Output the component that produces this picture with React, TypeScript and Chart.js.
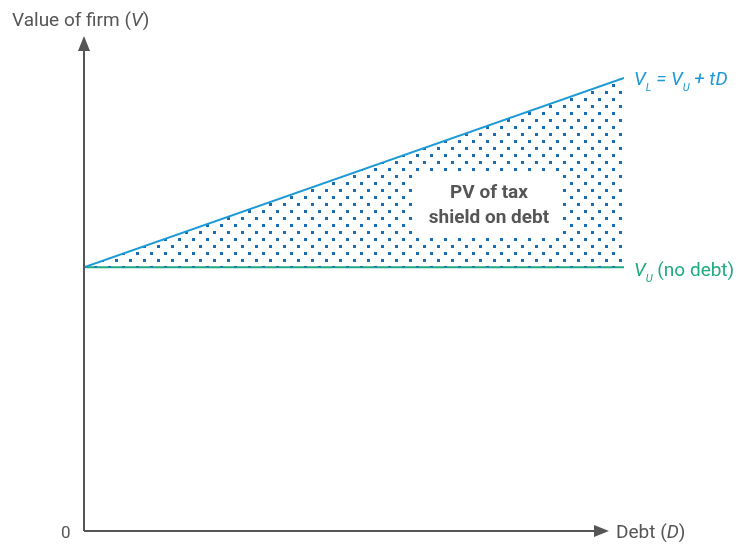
import React, { useEffect, useRef } from "react";
import { Chart, registerables } from "chart.js";

Chart.register(...registerables);

const debtValues = [0, 100];
const leveredValues = [53.5, 91.9];
const unleveredValues = [53.5, 53.5];

const yAxisTitle = "Value of firm (";
const xAxisTitle = "Debt (";
const zeroLabel = "0";
const shieldLabel = ["PV of tax", "shield on debt"];

const FONT = "Roboto, 'Noto Sans', sans-serif";
const AXIS_COLOR = "#555555";
const BLUE = "#1c9ad6";
const GREEN = "#1faa82";
const DOT = "#1a6db3";

function makePattern(): CanvasPattern | string {
  const c = document.createElement("canvas");
  c.width = 14;
  c.height = 14;
  const g = c.getContext("2d");
  if (!g) return DOT;
  g.fillStyle = DOT;
  g.fillRect(10, 0, 3, 3);
  g.fillRect(3, 7, 3, 3);
  const p = g.createPattern(c, "repeat");
  return p || DOT;
}

function drawRich(
  ctx: CanvasRenderingContext2D,
  parts: { t: string; italic?: boolean; sub?: boolean }[],
  x: number,
  y: number,
  size: number,
  color: string
) {
  let cx = x;
  ctx.fillStyle = color;
  ctx.textBaseline = "alphabetic";
  ctx.textAlign = "left";
  for (const p of parts) {
    const s = p.sub ? Math.round(size * 0.6) : size;
    ctx.font = `${p.italic ? "italic " : ""}${s}px ${FONT}`;
    ctx.fillText(p.t, cx, p.sub ? y + 6 : y);
    cx += ctx.measureText(p.t).width;
  }
}

const overlayPlugin = {
  id: "overlay",
  afterDatasetsDraw(chart: any) {
    const ctx: CanvasRenderingContext2D = chart.ctx;
    const xs = chart.scales.x;
    const ys = chart.scales.y;
    const x0 = xs.getPixelForValue(0);
    const y0 = ys.getPixelForValue(0);
    ctx.save();
    // axes
    ctx.strokeStyle = AXIS_COLOR;
    ctx.fillStyle = AXIS_COLOR;
    ctx.lineWidth = 2;
    ctx.beginPath();
    ctx.moveTo(x0, y0);
    ctx.lineTo(x0, 48);
    ctx.moveTo(x0, y0);
    ctx.lineTo(598, y0);
    ctx.stroke();
    ctx.beginPath();
    ctx.moveTo(x0, 36);
    ctx.lineTo(x0 - 6, 51);
    ctx.lineTo(x0 + 6, 51);
    ctx.closePath();
    ctx.fill();
    ctx.beginPath();
    ctx.moveTo(609, y0);
    ctx.lineTo(594, y0 - 6);
    ctx.lineTo(594, y0 + 6);
    ctx.closePath();
    ctx.fill();

    // axis labels
    drawRich(ctx, [{ t: yAxisTitle }, { t: "V", italic: true }, { t: ")" }], 12, 26, 19, AXIS_COLOR);
    drawRich(ctx, [{ t: xAxisTitle }, { t: "D", italic: true }, { t: ")" }], 616, 538, 19, AXIS_COLOR);
    drawRich(ctx, [{ t: zeroLabel }], 61, 538, 17, AXIS_COLOR);

    // line labels
    drawRich(
      ctx,
      [
        { t: "V", italic: true },
        { t: "L", italic: true, sub: true },
        { t: " = ", italic: true },
        { t: "V", italic: true },
        { t: "U", italic: true, sub: true },
        { t: " + tD", italic: true },
      ],
      634,
      85,
      19,
      BLUE
    );
    drawRich(
      ctx,
      [
        { t: "V", italic: true },
        { t: "U", italic: true, sub: true },
        { t: " (no debt)" },
      ],
      634,
      276,
      19,
      GREEN
    );

    // shield label box
    ctx.fillStyle = "#ffffff";
    ctx.fillRect(416, 174, 147, 62);
    ctx.fillStyle = AXIS_COLOR;
    ctx.font = `bold 19px ${FONT}`;
    ctx.textAlign = "center";
    ctx.textBaseline = "alphabetic";
    ctx.fillText(shieldLabel[0], 489, 198);
    ctx.fillText(shieldLabel[1], 489, 223);
    ctx.restore();
  },
};

export default function App() {
  const ref = useRef<HTMLCanvasElement>(null);
  useEffect(() => {
    if (!ref.current) return;
    const pattern = makePattern();
    const chart = new Chart(ref.current, {
      type: "line",
      data: {
        datasets: [
          {
            data: debtValues.map((d, i) => ({ x: d, y: leveredValues[i] })),
            borderColor: BLUE,
            borderWidth: 2,
            pointRadius: 0,
            fill: "+1",
            backgroundColor: pattern as any,
          },
          {
            data: debtValues.map((d, i) => ({ x: d, y: unleveredValues[i] })),
            borderColor: GREEN,
            borderWidth: 2,
            pointRadius: 0,
            fill: false,
          },
        ],
      },
      options: {
        animation: false,
        responsive: false,
        maintainAspectRatio: false,
        layout: { padding: { left: 84, right: 115, top: 38, bottom: 13 } },
        plugins: { legend: { display: false }, tooltip: { enabled: false } },
        scales: {
          x: { type: "linear", min: 0, max: 100, display: false },
          y: { type: "linear", min: 0, max: 100, display: false },
        },
      },
      plugins: [overlayPlugin],
    });
    return () => chart.destroy();
  }, []);
  return (
    <div style={{ position: "fixed", left: 0, top: 0, width: 739, height: 544, background: "#fff" }}>
      <canvas ref={ref} width={739} height={544} style={{ width: 739, height: 544 }} />
    </div>
  );
}
